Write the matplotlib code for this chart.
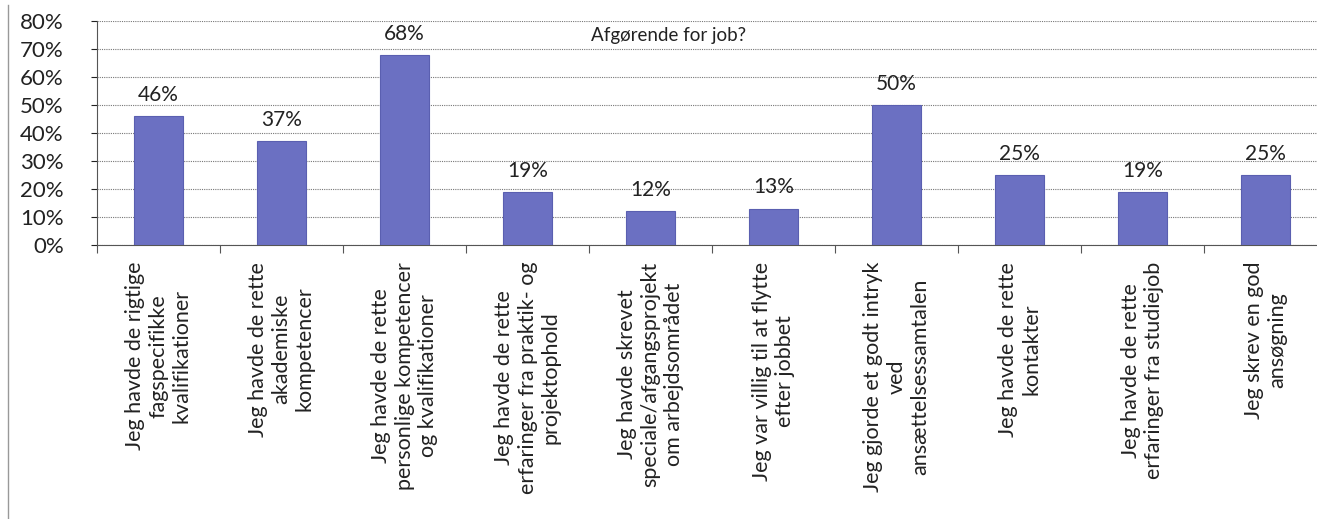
import matplotlib.pyplot as plt
from matplotlib.lines import Line2D
from matplotlib.ticker import FixedLocator, PercentFormatter

plt.rcParams['font.family'] = ['Lato', 'DejaVu Sans']

# Data
labels = [
    "Jeg havde de rigtige\nfagspecifikke\nkvalifikationer",
    "Jeg havde de rette\nakademiske\nkompetencer",
    "Jeg havde de rette\npersonlige kompetencer\nog kvalifikationer",
    "Jeg havde de rette\nerfaringer fra praktik- og\nprojektophold",
    "Jeg havde skrevet\nspeciale/afgangsprojekt\nom arbejdsområdet",
    "Jeg var villig til at flytte\nefter jobbet",
    "Jeg gjorde et godt intryk\nved\nansættelsessamtalen",
    "Jeg havde de rette\nkontakter",
    "Jeg havde de rette\nerfaringer fra studiejob",
    "Jeg skrev en god\nansøgning",
]
values = [46, 37, 68, 19, 12, 13, 50, 25, 19, 25]
title = "Afgørende for job?"

fig = plt.figure(figsize=(13.17, 5.19), dpi=100)
ax = fig.add_axes([0.0737, 0.528, 0.934, 0.4315])

x = range(len(values))
ax.bar(x, values, width=0.4, color='#6b70c2', edgecolor='#5a5fb0', linewidth=0.8, zorder=3)

for i, v in enumerate(values):
    ax.annotate(f'{v}%', (i, v), xytext=(0, 8), textcoords='offset points',
                ha='center', va='bottom', fontsize=15, color='#222222')

ax.set_xlim(-0.5, len(values) - 0.5)
ax.set_ylim(0, 80)
ax.set_yticks(range(0, 81, 10))
ax.yaxis.set_major_formatter(PercentFormatter(decimals=0))
ax.grid(axis='y', color='#777777', linestyle=(0, (1, 1)), linewidth=0.8, zorder=0)

# category boundary ticks on x axis, labels centred on bars
ax.xaxis.set_major_locator(FixedLocator([i - 0.5 for i in range(len(values) + 1)]))
ax.set_xticklabels([])
ax.set_xticks(list(x), minor=True)
ax.set_xticklabels(labels, minor=True, rotation=90, ha='center', va='top',
                   multialignment='center', fontsize=15.5, linespacing=1.2,
                   color='#222222')
ax.tick_params(axis='x', which='minor', length=0, pad=12)
ax.tick_params(axis='x', which='major', length=6, direction='out', color='#555555')
ax.tick_params(axis='y', labelsize=16, length=4, pad=20, colors='#222222')

for side in ['top', 'right']:
    ax.spines[side].set_visible(False)
ax.spines['left'].set_color('#555555')
ax.spines['bottom'].set_color('#555555')

ax.text(4.15, 75, title, ha='center', va='center', fontsize=13.5, color='#222222')

# outer frame line on the left
fig.add_artist(Line2D([0.006, 0.006], [0.0, 0.99], color='#999999', linewidth=1))

fig.savefig('out.png', dpi=100)
